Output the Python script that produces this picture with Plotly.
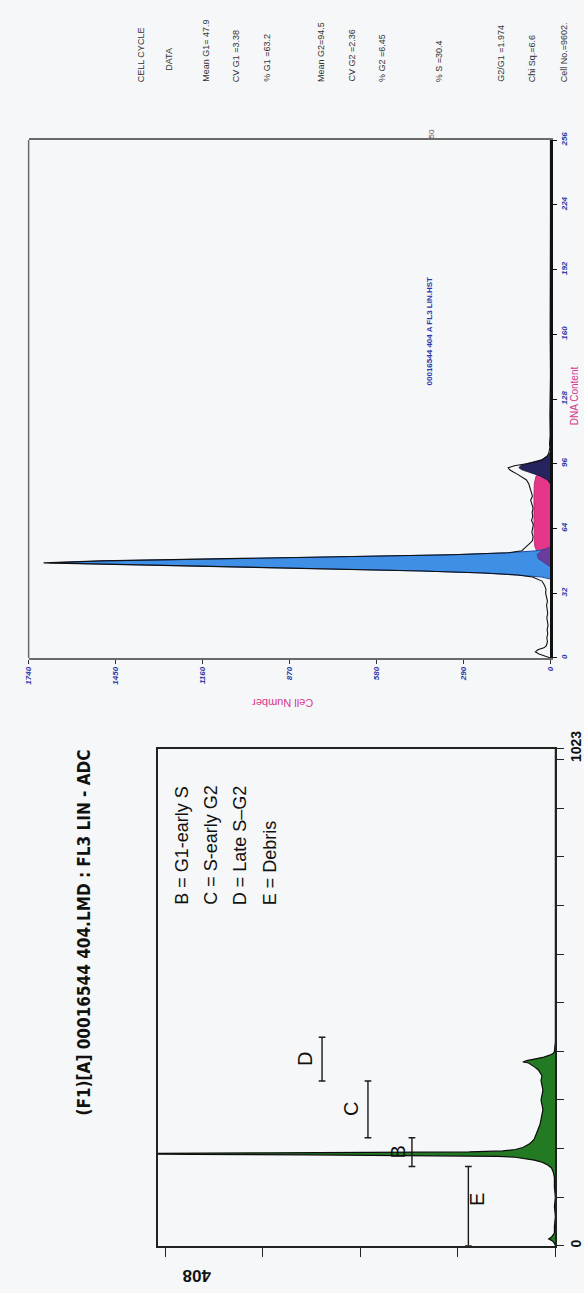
import plotly.graph_objects as go

W, H = 584, 1293


def fx(px):
    return px / W


def fy(py):
    return 1 - py / H


# ---------------- DNA content histogram (cell cycle fit) ----------------
dna_channel = [0, 1, 2, 3, 4, 5, 6, 8, 10, 12, 14, 16, 18, 20, 22, 24, 26, 28, 30, 32,
               34, 36, 38, 40, 41, 42, 43, 44, 45, 46, 47, 48, 49, 50, 51, 52, 53, 54,
               55, 56, 57, 58, 60, 62, 64, 66, 68, 70, 72, 74, 76, 78, 80, 82, 84, 86,
               88, 89, 90, 91, 92, 93, 94, 95, 96, 97, 98, 99, 100, 101, 102, 104, 106,
               110, 120, 130, 140, 160, 180, 200, 220, 240, 256]
dna_counts = [0, 20, 38, 50, 42, 22, 14, 10, 12, 9, 11, 8, 10, 12, 9, 11, 13, 10, 14, 16,
              15, 20, 28, 60, 110, 220, 430, 760, 1120, 1450, 1690, 1500, 1150, 720, 330, 140, 95, 88,
              80, 72, 66, 60, 58, 62, 60, 57, 63, 59, 61, 58, 62, 66, 60, 64, 68, 72,
              80, 90, 100, 112, 125, 136, 141, 120, 80, 45, 26, 16, 10, 6, 4, 2, 3,
              1, 2, 1, 0, 1, 0, 0, 0, 0, 0]

g1_channel = [39, 40, 41, 42, 43, 44, 45, 46, 47, 48, 49, 50, 51, 52, 53, 54]
g1_counts = [0, 30, 110, 230, 430, 750, 1100, 1430, 1670, 1480, 1130, 700, 330, 140, 45, 0]

s_channel = [49, 51, 53, 55, 58, 64, 72, 80, 86, 90, 92]
s_counts = [0, 28, 46, 52, 54, 55, 55, 55, 54, 48, 0]

trans_channel = [45, 47, 49, 51, 53, 55]
trans_counts = [0, 22, 40, 45, 30, 0]

g2_channel = [86, 88, 90, 92, 93, 94, 95, 96, 97, 98, 100, 102]
g2_counts = [0, 10, 35, 75, 95, 105, 100, 80, 55, 30, 8, 0]

cell_ticks = [0, 290, 580, 870, 1160, 1450, 1740]
dna_ticks = [0, 32, 64, 96, 128, 160, 192, 224, 256]

stat_lines = ["CELL CYCLE", "DATA", "Mean G1= 47.9", "CV G1 =3.38", "% G1 =63.2",
              "Mean G2=94.5", "CV G2 =2.36", "% G2 =6.45", "% S =30.4",
              "G2/G1 =1.974", "Chi Sq.=6.6", "Cell No.=9602."]
stat_x = [140, 168, 205, 236, 267, 322, 353, 384, 442, 505, 537, 569]

# ---------------- FL3 LIN - ADC histogram (gated regions) ----------------
adc_channel = [0, 5, 10, 14, 18, 22, 26, 40, 60, 80, 100, 120, 140, 150, 160, 166, 172,
               176, 180, 182, 184, 186, 187, 188, 189, 190, 191, 192, 193, 195, 198,
               202, 206, 210, 215, 220, 230, 240, 250, 260, 270, 280, 290, 300, 310,
               320, 330, 340, 350, 356, 362, 368, 372, 376, 378, 381, 384, 388, 392,
               396, 400, 420, 450, 500, 600, 700, 800, 900, 1023]
adc_counts = [0, 1, 3, 7, 4, 2, 1, 1, 0, 1, 0, 1, 1, 2, 4, 8, 14,
              22, 34, 42, 60, 150, 260, 380, 440, 430, 300, 160, 90, 55, 42,
              34, 30, 27, 24, 22, 20, 18, 16, 15, 14, 13, 14, 15, 14,
              13, 14, 15, 14, 16, 18, 22, 25, 28, 34, 30, 22, 12, 6,
              2, 1, 0, 0, 0, 0, 0, 0, 0, 0]

count_ticks = [0, 102, 204, 306, 408]
channel_ticks = [0, 100, 200, 300, 400, 500, 600, 700, 800, 900, 1000, 1023]

region_names = ["E", "B", "C", "D"]
region_start = [0, 163, 222, 339]
region_end = [163, 222, 339, 429]
region_level = [91, 150, 196, 244]
region_label_pos = [(82, 96), (165, 193), (214, 281), (262, 384)]

legend_lines = ["B = G1-early S", "C = S-early G2", "D = Late S\u2013G2", "E = Debris"]
legend_x = [180, 210, 240, 270]

BLUE_TXT = "#2b3aa8"
MAGENTA = "#d8388e"
BG = "#f5f7f8"
SANS = "Liberation Sans, Arial, sans-serif"

fig = go.Figure()

# model components of the cell-cycle fit
fig.add_trace(go.Scatter(x=s_counts, y=s_channel, fill="tozerox", fillcolor="#e6368a",
                         line=dict(color="#b02068", width=0.8), mode="lines",
                         xaxis="x", yaxis="y", hoverinfo="skip"))
fig.add_trace(go.Scatter(x=g2_counts, y=g2_channel, fill="tozerox", fillcolor="#25245e",
                         line=dict(color="#141433", width=0.8), mode="lines",
                         xaxis="x", yaxis="y", hoverinfo="skip"))
fig.add_trace(go.Scatter(x=g1_counts, y=g1_channel, fill="tozerox", fillcolor="#3f8fe6",
                         line=dict(color="#1d4fa6", width=1), mode="lines",
                         xaxis="x", yaxis="y", hoverinfo="skip"))
fig.add_trace(go.Scatter(x=trans_counts, y=trans_channel, fill="tozerox", fillcolor="#6a3c9e",
                         line=dict(color="#4b2a78", width=0.6), mode="lines",
                         xaxis="x", yaxis="y", hoverinfo="skip"))
# measured histogram outline
fig.add_trace(go.Scatter(x=dna_counts, y=dna_channel, mode="lines",
                         line=dict(color="#111111", width=1.1),
                         xaxis="x", yaxis="y", hoverinfo="skip"))

# FL3 histogram
fig.add_trace(go.Scatter(x=adc_counts, y=adc_channel, fill="tozerox", fillcolor="#237a23",
                         mode="lines", line=dict(color="#0c0c0c", width=1.2),
                         xaxis="x2", yaxis="y2", hoverinfo="skip"))

# region markers
for name, a, b, lev in zip(region_names, region_start, region_end, region_level):
    cap = 3.5
    fig.add_trace(go.Scatter(
        x=[lev, lev, None, lev - cap, lev + cap, None, lev - cap, lev + cap],
        y=[a, b, None, a, a, None, b, b],
        mode="lines", line=dict(color="#1a1a1a", width=1.4),
        xaxis="x2", yaxis="y2", hoverinfo="skip"))

tick_font = dict(family=SANS, size=8, color=BLUE_TXT, weight="bold", style="italic")

fig.update_layout(
    width=W, height=H,
    margin=dict(l=0, r=0, t=0, b=0),
    paper_bgcolor=BG, plot_bgcolor=BG,
    showlegend=False,
    xaxis=dict(domain=[fx(25), fx(555)], range=[1740, 0], anchor="y",
               tickvals=cell_ticks, ticktext=[str(v) for v in cell_ticks],
               tickangle=-90, tickfont=tick_font, ticks="outside", ticklen=4,
               tickcolor="#333", showgrid=False, zeroline=False,
               showline=True, linecolor="#6a6a6a", linewidth=1.5, mirror=True),
    yaxis=dict(domain=[fy(650), fy(124)], range=[0, 256], anchor="x", side="right",
               tickvals=dna_ticks, ticktext=[str(v) for v in dna_ticks],
               tickangle=-90, tickfont=tick_font, ticks="outside", ticklen=4,
               tickcolor="#111", showgrid=False, zeroline=False,
               showline=True, linecolor="#111111", linewidth=3),
    xaxis2=dict(domain=[fx(156), fx(560)], range=[416, 0], anchor="y2",
                tickvals=count_ticks, ticktext=[""] * len(count_ticks),
                ticks="outside", ticklen=10, tickwidth=1.3, tickcolor="#222",
                showgrid=False, zeroline=False,
                showline=True, linecolor="#222222", linewidth=1.5, mirror=True),
    yaxis2=dict(domain=[fy(1247), fy(742)], range=[0, 1023], anchor="x2", side="right",
                tickvals=channel_ticks,
                ticktext=["0"] + [""] * (len(channel_ticks) - 2) + ["1023"],
                tickangle=-90, ticks="outside", ticklen=7, tickwidth=1.3, tickcolor="#222",
                tickfont=dict(family=SANS, size=14, color="#111", weight="bold"),
                showgrid=False, zeroline=False,
                showline=True, linecolor="#222222", linewidth=1.5, mirror=True),
    shapes=[dict(type="line", xref="paper", yref="paper",
                 x0=fx(25), x1=fx(25), y0=fy(650), y1=fy(124),
                 line=dict(color="#6a6a6a", width=1.5))],
)

ann = []


def note(px, py, text, size, color, angle=-90, xa="center", ya="middle", **fkw):
    ann.append(dict(x=fx(px), y=fy(py), xref="paper", yref="paper", text=text,
                    showarrow=False, textangle=angle, xanchor=xa, yanchor=ya,
                    font=dict(family=fkw.pop("family", SANS), size=size, color=color, **fkw)))


# statistics column of the fit
for txt, px in zip(stat_lines, stat_x):
    if txt == "DATA":
        note(px, 42, txt, 9, "#333333")
    else:
        note(px, 67, txt, 9, "#333333", ya="bottom")

note(432, 318, "00016544 404 A FL3 LIN.HST", 8, BLUE_TXT, weight="bold")
note(434, 118, "50", 8, "#555555")
note(579, 384, "DNA Content", 10, MAGENTA)
note(283, 696, "Cell Number", 11, MAGENTA, angle=180)

# left panel title and legend
note(81, 1117, "(F1)[A] 00016544 404.LMD : FL3 LIN - ADC", 17, "#111", ya="bottom",
     family="Liberation Sans Narrow, DejaVu Sans Condensed, Arial Narrow, sans-serif",
     weight="bold")
for txt, px in zip(legend_lines, legend_x):
    note(px, 903, txt, 18, "#111", ya="bottom")
note(196, 1278, "408", 17, "#111", angle=180, weight="bold")

for name, (cx, cy) in zip(region_names, region_label_pos):
    ann.append(dict(x=cx, y=cy, xref="x2", yref="y2", text=name, showarrow=False,
                    textangle=-90, xanchor="center", yanchor="middle",
                    font=dict(family=SANS, size=20, color="#111")))

fig.update_layout(annotations=ann)
fig.write_html("out.html")
